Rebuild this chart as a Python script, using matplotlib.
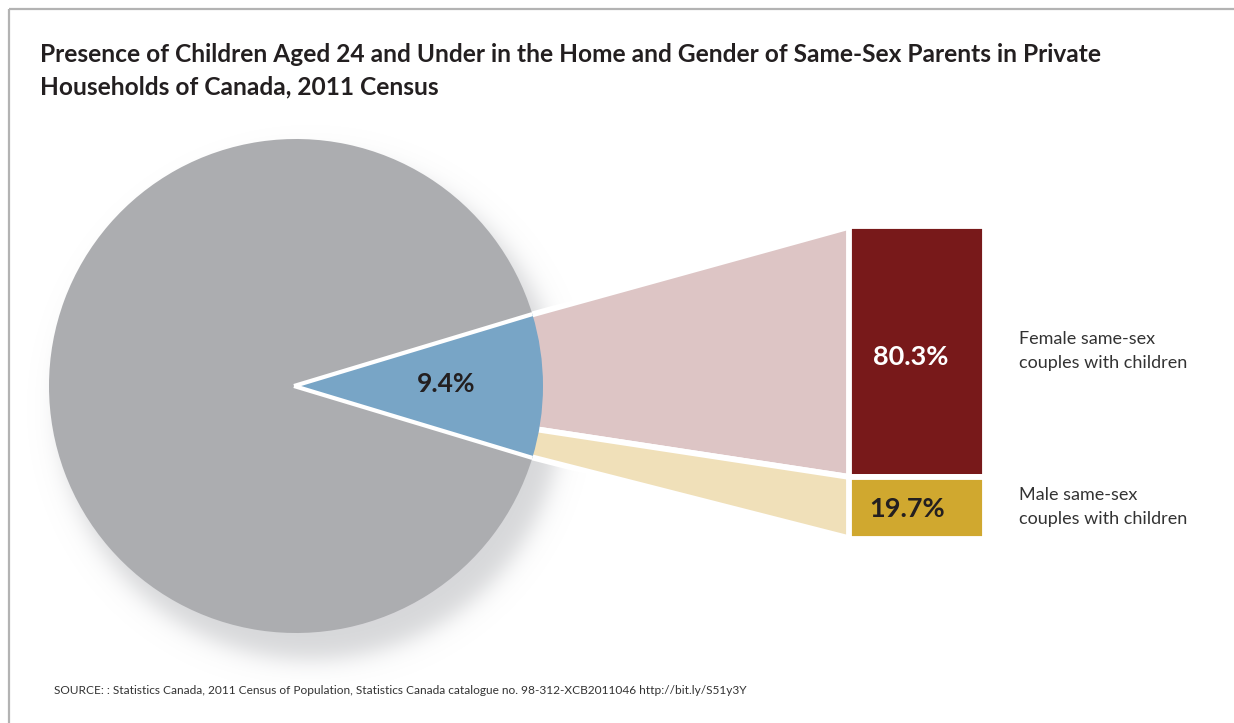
import numpy as np
import matplotlib
matplotlib.use("Agg")
import matplotlib.pyplot as plt
from matplotlib.patches import Polygon

# ---- data ----
pie_labels = ["With children", "Without children"]
pie_values = [9.4, 90.6]
bar_labels = ["Female same-sex\ncouples with children", "Male same-sex\ncouples with children"]
bar_values = [80.3, 19.7]
title = ("Presence of Children Aged 24 and Under in the Home and Gender of Same-Sex Parents in Private\n"
         "Households of Canada, 2011 Census")
source = ("SOURCE: : Statistics Canada, 2011 Census of Population, Statistics Canada catalogue no. "
          "98-312-XCB2011046 http://bit.ly/S51y3Y")

# ---- style ----
W, H = 1234, 723
C_GRAY = "#ACADB0"
C_BLUE = "#78A5C6"
C_RED = "#78191A"
C_GOLD = "#D0A82F"
C_PINK = "#DDC5C5"
C_PALE = "#F0E0B9"
C_TEXT = "#231F20"

plt.rcParams["font.family"] = ["Lato", "DejaVu Sans"]

fig = plt.figure(figsize=(W / 100, H / 100), dpi=100)
ax = fig.add_axes([0, 0, 1, 1])

cx, cy, R = 296, 386, 247
bar_x0, bar_w = 849, 136
bar_top, bar_h = 226, 313

# pie
span = pie_values[0] / 100 * 360
wedges, _ = ax.pie(pie_values, colors=[C_BLUE, C_GRAY], startangle=-span / 2,
                   center=(cx, cy), radius=R, counterclock=True,
                   wedgeprops=dict(linewidth=0), frame=True)
for w in wedges:
    w.set_zorder(4)

ax.set_xlim(0, W)
ax.set_ylim(H, 0)
ax.set_aspect("equal")
ax.axis("off")

# soft shadow under the pie
xs = np.arange(0, W)
ys = np.arange(0, H)
XX, YY = np.meshgrid(xs, ys)
d = np.hypot(XX - (cx + 14), YY - (cy + 22))
a = 0.5 * (1 - np.tanh((d - (R + 4)) / 14.0)) * 0.42
img = np.zeros((H, W, 4))
img[..., 0] = 0.62
img[..., 1] = 0.63
img[..., 2] = 0.65
img[..., 3] = a
ax.imshow(img, extent=(0, W, H, 0), zorder=1, interpolation="bilinear")

# separator lines of blue wedge
t1, t2 = np.deg2rad(wedges[0].theta1), np.deg2rad(wedges[0].theta2)
for t in (t1, t2):
    ax.plot([cx - 2, cx + R * np.cos(t)], [cy, cy + R * np.sin(t)], color="white",
            lw=3, zorder=5, solid_capstyle="butt")

# stacked bar
bottoms = [bar_top]
for v in bar_values[:-1]:
    bottoms.append(bottoms[-1] + v / 100 * bar_h)
heights = [v / 100 * bar_h for v in bar_values]
bars = ax.bar([bar_x0 + bar_w / 2] * 2, heights, bottom=bottoms, width=bar_w,
              color=[C_RED, C_GOLD], edgecolor="white", linewidth=4.2, zorder=4)

# connectors
split_t = t1 + bar_values[0] / 100 * (t2 - t1)
rr = R - 10
pts_top = (cx + rr * np.cos(t1), cy + rr * np.sin(t1))
pts_mid = (cx + rr * np.cos(split_t), cy + rr * np.sin(split_t))
pts_bot = (cx + rr * np.cos(t2), cy + rr * np.sin(t2))
conn = [
    [pts_top, (bar_x0 + 3, bottoms[0]), (bar_x0 + 3, bottoms[0] + heights[0]), pts_mid],
    [pts_mid, (bar_x0 + 3, bottoms[1]), (bar_x0 + 3, bottoms[1] + heights[1]), pts_bot],
]
for poly, col in zip(conn, [C_PINK, C_PALE]):
    ax.add_patch(Polygon(poly, closed=True, facecolor=col, edgecolor="white",
                         linewidth=4.2, zorder=2))

# value labels
ax.text(446, 384, f"{pie_values[0]:.1f}%", ha="center", va="center", fontsize=19,
        fontweight="bold", color=C_TEXT, zorder=6)
label_colors = ["white", C_TEXT]
offsets = [(-6, 5), (-10, 1)]
for i, (v, col) in enumerate(zip(bar_values, label_colors)):
    dx, dy = offsets[i]
    ax.text(bar_x0 + bar_w / 2 + dx, bottoms[i] + heights[i] / 2 + dy,
            f"{v:.1f}%", ha="center", va="center", fontsize=19.5, fontweight="bold",
            color=col, zorder=6)

# category labels
label_y = [351, 507]
for lab, y in zip(bar_labels, label_y):
    ax.text(1019, y, lab, ha="left", va="center", fontsize=13.0, color="#333333",
            linespacing=1.55, zorder=6)

# title and source
fig.text(40 / W, 1 - 43 / H, title, ha="left", va="top", fontsize=17.65, fontweight="bold",
         color=C_TEXT, linespacing=1.52)
fig.text(54 / W, 1 - 690 / H, source, ha="left", va="center", fontsize=8.6, color="#333333")

# frame lines
ax.plot([9, 9], [9, H], color="#B3B3B3", lw=1.6, zorder=7, solid_capstyle="butt")
ax.plot([9, W], [9, 9], color="#B3B3B3", lw=1.6, zorder=7, solid_capstyle="butt")

fig.savefig("out.png", dpi=100)
